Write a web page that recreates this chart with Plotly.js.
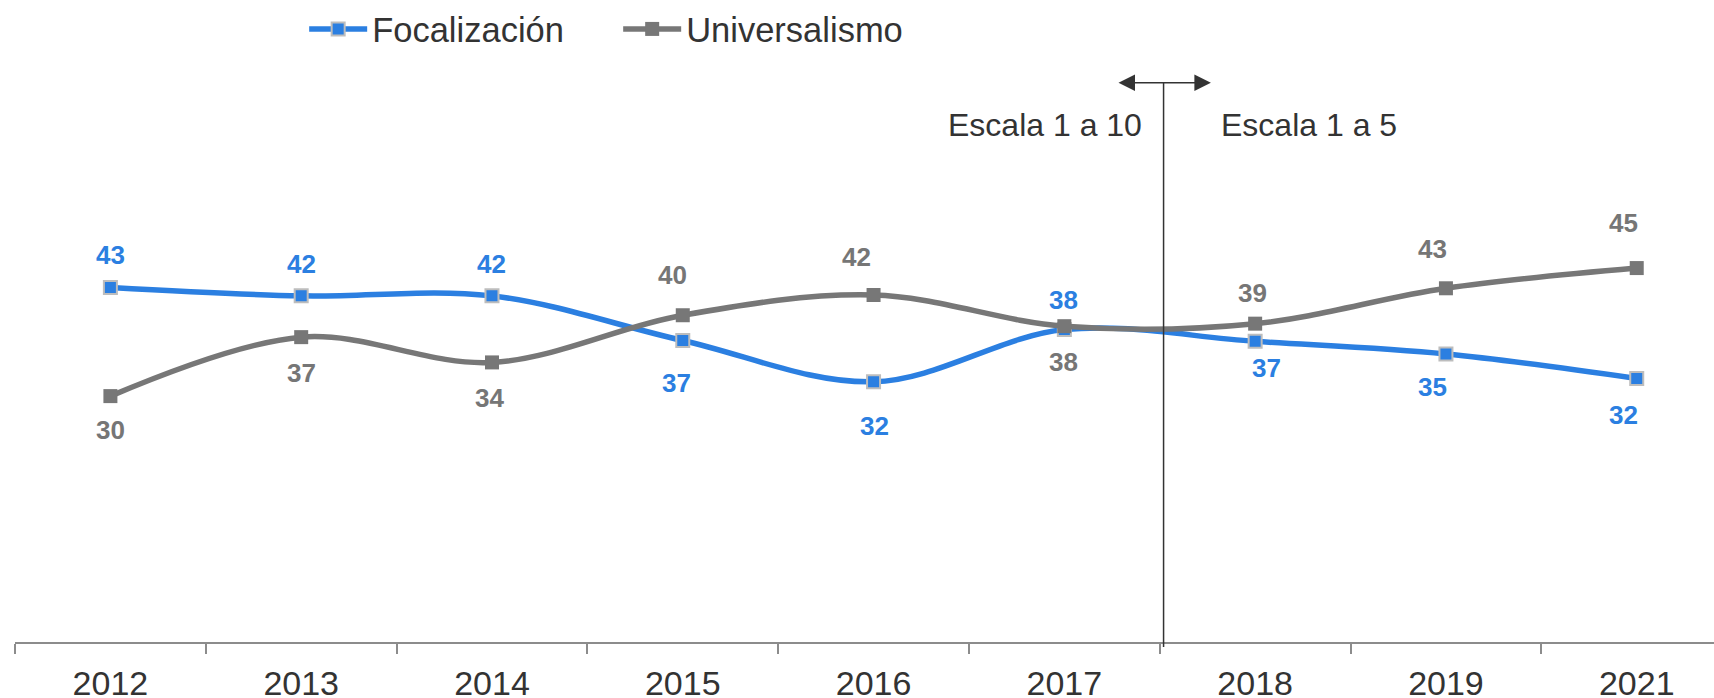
<!DOCTYPE html>
<html>
<head>
<meta charset="utf-8">
<script src="https://cdn.plot.ly/plotly-3.0.1.min.js"></script>
<style>html,body{margin:0;padding:0;background:#fff;}#chart{width:1714px;height:698px;}</style>
</head>
<body>
<div id="chart"></div>
<script>
// ---- data ----
const years = ['2012', '2013', '2014', '2015', '2016', '2017', '2018', '2019', '2021'];
const focalizacion = [43.0, 42.0, 42.0, 36.7, 31.8, 38.0, 36.6, 35.1, 32.2];
const universalismo = [30.1, 37.1, 34.1, 39.7, 42.1, 38.4, 38.7, 42.9, 45.3];
const seriesNames = ['Focalización', 'Universalismo'];
const scaleNotes = ['Escala 1 a 10', 'Escala 1 a 5'];

// ---- styling: data-label placement offsets in pixels (screen down = +) ----
const BLUE = '#2B7FE1';
const GRAY = '#777777';
const focLabelDy = [-33, -33, -33, 41, 43, -31, 26, 32, 36];
const focLabelDx = [0, 0, 0, -6, 1, -1, 11, -13, -13];
const uniLabelDy = [33, 35, 35, -41, -39, 35, -32, -40, -46];
const uniLabelDx = [0, 0, -2, -10, -17, -1, -3, -13, -13];
const FONT = 'Liberation Sans, Arial, sans-serif';

const traces = [
  {
    x: years, y: focalizacion, name: seriesNames[0], type: 'scatter', mode: 'lines+markers',
    line: {color: BLUE, width: 5.5, shape: 'spline', smoothing: 1},
    marker: {symbol: 'square', size: 13, color: BLUE, line: {color: '#BDBDBD', width: 2}},
    hoverinfo: 'skip'
  },
  {
    x: years, y: universalismo, name: seriesNames[1], type: 'scatter', mode: 'lines+markers',
    line: {color: GRAY, width: 5.5, shape: 'spline', smoothing: 1},
    marker: {symbol: 'square', size: 14, color: GRAY, line: {color: GRAY, width: 0}},
    hoverinfo: 'skip'
  }
];

const annotations = [];
function addLabels(vals, dys, dxs, color) {
  vals.forEach((v, i) => {
    annotations.push({
      x: i, y: v, xref: 'x', yref: 'y', text: '<b>' + Math.round(v) + '</b>',
      showarrow: false, yshift: -(dys[i] + 1), xshift: dxs[i],
      font: {family: FONT, size: 26, color: color}
    });
  });
}
addLabels(focalizacion, focLabelDy, focLabelDx, BLUE);
addLabels(universalismo, uniLabelDy, uniLabelDx, '#767676');

// divider between the two scales
const DIV_X = 5.52;
const TOP = 0.961;
annotations.push({
  x: 5.768, y: TOP, xref: 'x', yref: 'paper',
  ax: 5.276, ay: 0, axref: 'x', ayref: 'pixel',
  showarrow: true, arrowside: 'end+start', arrowhead: 2, startarrowhead: 2,
  arrowsize: 2.2, startarrowsize: 2.2, arrowwidth: 1.5, arrowcolor: '#333333', text: ''
});
annotations.push({
  x: DIV_X, y: 0.8875, xref: 'x', yref: 'paper', xanchor: 'right', yanchor: 'middle',
  xshift: -20, text: scaleNotes[0], showarrow: false,
  font: {family: FONT, size: 32, color: '#333333'}
});
annotations.push({
  x: DIV_X, y: 0.8875, xref: 'x', yref: 'paper', xanchor: 'left', yanchor: 'middle',
  xshift: 55, text: scaleNotes[1], showarrow: false,
  font: {family: FONT, size: 32, color: '#333333'}
});

const layout = {
  width: 1714, height: 698,
  margin: {l: 15, r: 0, t: 51, b: 56},
  paper_bgcolor: '#ffffff', plot_bgcolor: '#ffffff',
  font: {family: FONT, color: '#333333'},
  showlegend: true,
  legend: {
    orientation: 'h', x: 0.1702, xanchor: 'left', y: 1.0535, yanchor: 'middle',
    font: {family: FONT, size: 34.5, color: '#333333'},
    itemwidth: 58, entrywidth: 241, bgcolor: 'rgba(0,0,0,0)'
  },
  xaxis: {
    type: 'category', categoryorder: 'array', categoryarray: years,
    range: [-0.5, 8.405], tickson: 'boundaries', ticks: 'outside', ticklen: 10,
    tickwidth: 2, tickcolor: '#8C8C8C', showline: true, linecolor: '#8C8C8C', linewidth: 2,
    showgrid: false, zeroline: false, ticklabelstandoff: 10,
    tickfont: {family: FONT, size: 34, color: '#333333'}, fixedrange: true
  },
  yaxis: {
    range: [0.91, 70], visible: false, showgrid: false, zeroline: false, fixedrange: true
  },
  shapes: [{
    type: 'line', xref: 'x', yref: 'paper', x0: DIV_X, x1: DIV_X, y0: -0.0085, y1: TOP,
    line: {color: '#333333', width: 1.5}
  }],
  annotations: annotations
};

Plotly.newPlot('chart', traces, layout, {displayModeBar: false, staticPlot: true});
</script>
</body>
</html>
